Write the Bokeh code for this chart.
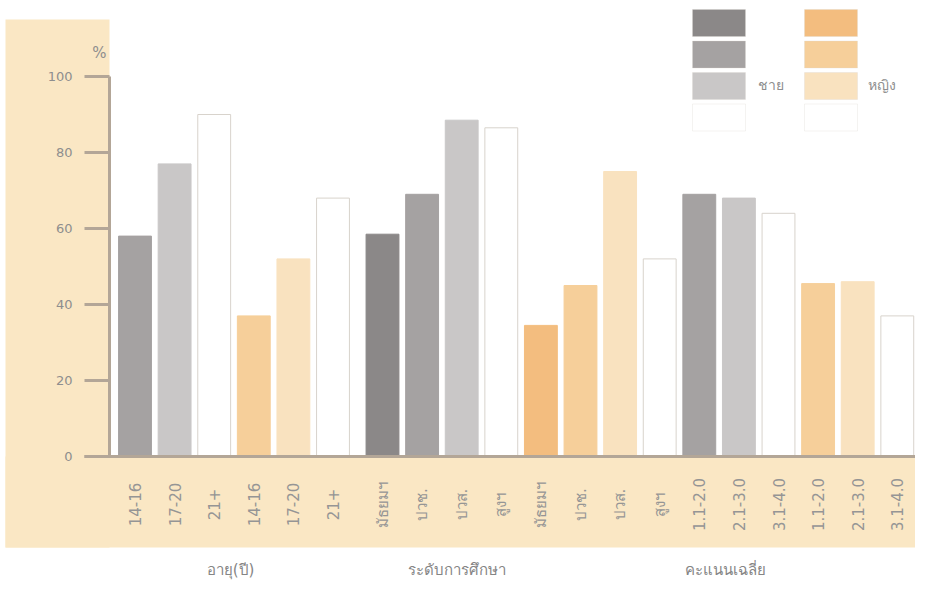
import math
from bokeh.plotting import figure
from bokeh.models import ColumnDataSource, Range1d, FixedTicker, LabelSet, Label, BoxAnnotation
from bokeh.embed import file_html
from bokeh.resources import INLINE
from bokeh.core.properties import value

# ---------------- data ----------------
group_names = ["อายุ(ปี)", "ระดับการศึกษา", "คะแนนเฉลี่ย"]
sex_names = ["ชาย", "หญิง"]

age_labels = ["14-16", "17-20", "21+"]
age_male = [58, 77, 90]
age_female = [37, 52, 68]

edu_labels = ["มัธยมฯ", "ปวช.", "ปวส.", "สูงฯ"]
edu_male = [58.5, 69, 88.5, 86.5]
edu_female = [34.5, 45, 75, 52]

grade_labels = ["1.1-2.0", "2.1-3.0", "3.1-4.0"]
grade_male = [69, 68, 64]
grade_female = [45.5, 46, 37]

y_ticks = [0, 20, 40, 60, 80, 100]

# ---------------- styles / layout ----------------
MALE = ["#8b8888", "#a5a2a2", "#c9c7c7", "#ffffff"]
FEMALE = ["#f3bd7f", "#f6cf9a", "#f9e2bf", "#ffffff"]
BEIGE = "#fae7c4"
AX = "#b3a697"
TXT = "#8e8e8e"
FONT = "DejaVu Sans"

W, H = 915, 592
PX, PY = 39.6, 3.8          # pixels per data unit
ORG_X, ORG_Y = 134.5, 456   # figure pixel of first bar centre / value 0
X0 = -ORG_X / PX
X1 = X0 + W / PX
Y0 = -(H - ORG_Y) / PY
Y1 = ORG_Y / PY
GAP = [0, 0.25, 0.25]


def dx(fx):
    return X0 + fx / PX


def dy(fy):
    return (ORG_Y - fy) / PY


groups = [(age_labels, age_male, age_female),
          (edu_labels, edu_male, edu_female),
          (grade_labels, grade_male, grade_female)]

xs, tops, labels, fills, lines = [], [], [], [], []
i = 0
for g, (labs, m, f) in enumerate(groups):
    for vals, pal in ((m, MALE), (f, FEMALE)):
        shades = pal[-len(labs):]
        for lab, v, c in zip(labs, vals, shades):
            xs.append(i + GAP[g])
            tops.append(v)
            labels.append(lab)
            fills.append(c)
            lines.append("#d8d3cc" if c == "#ffffff" else c)
            i += 1

src = ColumnDataSource(dict(x=xs, top=tops, label=labels, fill=fills, line=lines))

p = figure(width=W, height=H, x_range=Range1d(X0, X1), y_range=Range1d(Y0, Y1),
           output_backend="svg", toolbar_location=None, min_border=0)
p.border_fill_color = "white"
p.background_fill_color = "white"
p.outline_line_color = None
p.xgrid.grid_line_color = None
p.ygrid.grid_line_color = None

# beige panels
for l, r, b, t in [(dx(5), dx(109), dy(547), dy(19)),
                   (dx(5), dx(W + 10), dy(547), 0)]:
    p.add_layout(BoxAnnotation(left=l, right=r, bottom=b, top=t, fill_color=BEIGE,
                               fill_alpha=1, line_color=None, level="underlay"))

# y axis
p.yaxis.fixed_location = dx(109)
p.yaxis.ticker = FixedTicker(ticks=y_ticks)
p.yaxis.bounds = (0, 100)
p.yaxis.axis_line_width = 3
p.yaxis.axis_line_color = AX
p.yaxis.major_tick_out = 25
p.yaxis.major_tick_in = 0
p.yaxis.major_tick_line_width = 3
p.yaxis.major_tick_line_color = AX
p.yaxis.minor_tick_line_color = None
p.yaxis.major_label_standoff = 12
p.yaxis.major_label_text_font_size = "13px"
p.yaxis.major_label_text_color = TXT
p.yaxis.major_label_text_font = FONT

# x axis
p.xaxis.fixed_location = 0
p.xaxis.bounds = (dx(84), X1)
p.xaxis.ticker = FixedTicker(ticks=[])
p.xaxis.major_label_text_font_size = "0px"
p.xaxis.axis_line_width = 3
p.xaxis.axis_line_color = AX
p.xaxis.major_tick_line_color = None
p.xaxis.minor_tick_line_color = None

# bars
p.vbar(x="x", top="top", bottom=0, width=0.83, fill_color="fill", line_color="line",
       line_width=1, source=src)

# category labels
p.add_layout(LabelSet(x="x", y=dy(504), text="label", angle=math.pi / 2,
                      text_align="center", text_baseline="middle",
                      text_font_size=value("15px"), text_color=value("#959595"),
                      text_font=value(FONT), source=src))

# group labels
for name, fx in zip(group_names, [230, 456, 725]):
    p.add_layout(Label(x=dx(fx), y=dy(569), text=name, text_align="center",
                       text_baseline="middle", text_font_size="15px", text_color="#858585",
                       text_font=FONT))

# percent sign
p.add_layout(Label(x=dx(99), y=dy(52), text="%", text_align="center", text_baseline="middle",
                   text_font_size="15px", text_color=TXT, text_font=FONT))

# legend
for pal, fx, name, lx in [(MALE, 692, sex_names[0], 757), (FEMALE, 804, sex_names[1], 867)]:
    for k, c in enumerate(pal):
        top_px = 9 + k * 31.5
        p.add_layout(BoxAnnotation(left=dx(fx), right=dx(fx + 53), top=dy(top_px),
                                   bottom=dy(top_px + 27), fill_color=c, fill_alpha=1,
                                   line_color="#dcd8d2", line_width=1))
    p.add_layout(Label(x=dx(lx), y=dy(84), text=name, text_align="left",
                       text_baseline="middle", text_font_size="14px", text_color=TXT,
                       text_font=FONT))

open("out.html", "w").write(file_html(p, INLINE))
